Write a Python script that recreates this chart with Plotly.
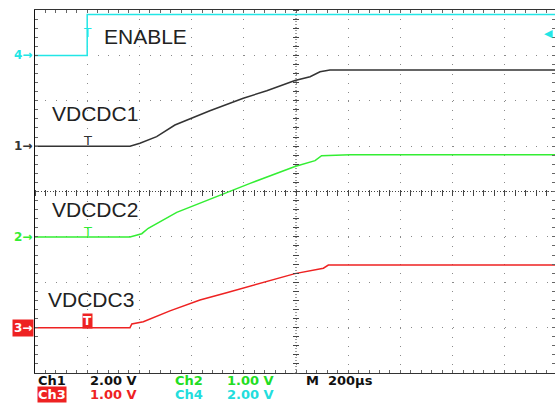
import plotly.graph_objects as go

# ---- data (time in µs, 200 µs/div; voltages in V) ----
t_ch1 = [-1000, -636, -598, -534, -464, -400, -330, -202, -112, -4, 54, 92, 130, 1000]
v_ch1 = [0, 0, 0.13, 0.42, 0.93, 1.23, 1.56, 2.11, 2.44, 2.89, 3.06, 3.28, 3.35, 3.35]
t_ch2 = [-1000, -636, -591, -566, -457, -380, -253, -176, -4, 73, 98, 207, 1000]
v_ch2 = [0, 0, 0.07, 0.19, 0.54, 0.72, 1.01, 1.18, 1.55, 1.68, 1.79, 1.81, 1.81]
t_ch3 = [-1000, -636, -629, -585, -483, -368, -266, -138, -4, 105, 124, 1000]
v_ch3 = [0, 0, 0.08, 0.13, 0.37, 0.61, 0.77, 0.98, 1.19, 1.31, 1.38, 1.38]
t_ch4 = [-1000, -800, -800, 1000]
v_ch4 = [0, 0, 1.8, 1.8]

channels = ["Ch1", "Ch2", "Ch3", "Ch4"]
labels = ["VDCDC1", "VDCDC2", "VDCDC3", "ENABLE"]
volts_per_div = [2.0, 1.0, 1.0, 2.0]
offset_div = [1, -1, -3, 3]
colors = ["#333333", "#33ee33", "#ee2222", "#22e6e6"]
scale_text = ["2.00 V", "1.00 V", "1.00 V", "2.00 V"]
timebase = "200µs"
trigger_t = -800
trigger_level_v = 0.98

W, H = 555, 405
L, R, T, B = 35, 0, 10, 32
PW, PH = W - L - R, H - T - B


def px(x):
    return (x - L) / PW


def py(y):
    return (H - B - y) / PH


def to_div(v, ch):
    return [offset_div[ch] + vv / volts_per_div[ch] for vv in v]


fig = go.Figure()
series = [(t_ch1, v_ch1), (t_ch2, v_ch2), (t_ch3, v_ch3), (t_ch4, v_ch4)]
for i in [3, 0, 1, 2]:
    t, v = series[i]
    fig.add_trace(go.Scatter(x=t, y=to_div(v, i), mode="lines",
                             line=dict(color=colors[i], width=1.5),
                             showlegend=False, hoverinfo="skip"))
# helper traces so that the crosshair tick axes are drawn
fig.add_trace(go.Scatter(x=[None], y=[None], xaxis="x2", yaxis="y", showlegend=False, hoverinfo="skip"))
fig.add_trace(go.Scatter(x=[None], y=[None], xaxis="x", yaxis="y2", showlegend=False, hoverinfo="skip"))

xr = [-1000, -1000 + PW / 52.2 * 200]
grid_c = "#8a8a8a"
fig.update_layout(
    template="none",
    width=W, height=H, margin=dict(l=L, r=R, t=T, b=B, pad=0),
    paper_bgcolor="white", plot_bgcolor="white",
    xaxis=dict(range=xr, showgrid=True, gridcolor=grid_c, gridwidth=1, automargin=False,
               griddash="1px,8.075px", dtick=200, tick0=-1000,
               ticks="inside", ticklen=3, tickcolor="#666",
               showticklabels=False, showline=True, linecolor="#333", linewidth=1,
               mirror="ticks", zeroline=False,
               minor=dict(dtick=40, ticks="inside", ticklen=3, tickcolor="#666", showgrid=False)),
    yaxis=dict(range=[-4, 4], showgrid=True, gridcolor=grid_c, gridwidth=1, automargin=False,
               griddash="1px,9.44px", dtick=1, tick0=0,
               ticks="inside", ticklen=3, tickcolor="#666",
               showticklabels=False, showline=True, linecolor="#111", linewidth=1,
               mirror="ticks", zeroline=False,
               minor=dict(dtick=0.2, ticks="inside", ticklen=3, tickcolor="#666", showgrid=False)),
    xaxis2=dict(overlaying="x", anchor="free", position=0.5 + 3 / PH, range=xr, automargin=False,
                dtick=40, tick0=-1000, ticks="outside", ticklen=6, tickcolor="#444",
                showticklabels=False, showgrid=False, showline=False, zeroline=False),
    yaxis2=dict(overlaying="y", anchor="free", position=(1000 / (xr[1] - xr[0])) + 3 / PW,
                range=[-4, 4], dtick=0.2, tick0=0, ticks="outside", ticklen=6, tickcolor="#444",
                automargin=False,
                showticklabels=False, showgrid=False, showline=False, zeroline=False),
    shapes=[
        dict(type="line", xref="paper", yref="y", x0=0, x1=1, y0=0, y1=0, layer="below",
             line=dict(color="#444", width=1, dash="1px,2px")),
        dict(type="line", xref="x", yref="paper", x0=0, x1=0, y0=0, y1=1, layer="below",
             line=dict(color="#444", width=1, dash="1px,2px")),
    ],
)

ann = []
label_font = dict(family="Liberation Sans, Arial, sans-serif", size=21, color="#222")
label_pos = [(50, 113.5), (50, 209.7), (46, 299), (102, 37)]
for i in range(4):
    x, y = label_pos[i]
    ann.append(dict(xref="paper", yref="paper", x=px(x), y=py(y), text=labels[i],
                    showarrow=False, xanchor="left", yanchor="middle", font=label_font))

# channel ground markers on the left
mk_font = dict(family="DejaVu Sans, sans-serif", size=12)
for i in range(4):
    f = dict(mk_font, color=colors[i] if i != 2 else "white")
    a = dict(xref="paper", yref="y", x=px(34), y=offset_div[i], text=f"<b>{i+1}→</b>",
             showarrow=False, xanchor="right", yanchor="middle", font=f, borderpad=1)
    if i == 2:
        a["bgcolor"] = colors[2]
    ann.append(a)

# trigger position markers
for i in range(3):
    f = dict(family="DejaVu Sans, sans-serif", size=13, color=colors[i] if i != 2 else "white")
    a = dict(xref="x", yref="y", x=trigger_t, y=offset_div[i], text="T", showarrow=False,
             xanchor="center", yanchor="bottom", font=f, yshift=-3, borderpad=0)
    if i == 2:
        a["bgcolor"] = colors[2]
        a["yshift"] = -1
        a["text"] = "<b>T</b>"
        a["font"] = dict(f, size=12)
    ann.append(a)
ann.append(dict(xref="x", yref="y", x=trigger_t, y=offset_div[3] + trigger_level_v / volts_per_div[3],
                text="T", showarrow=False, xanchor="center", yanchor="middle",
                font=dict(family="DejaVu Sans, sans-serif", size=12, color=colors[3])))
# trigger level marker on right
ann.append(dict(xref="paper", yref="y", x=0.998, y=offset_div[3] + trigger_level_v / volts_per_div[3],
                text="◀", showarrow=False, xanchor="right", yanchor="middle", borderpad=0,
                font=dict(family="DejaVu Sans, sans-serif", size=11, color=colors[3])))

# bottom readout
ro_font = dict(family="DejaVu Sans, sans-serif", size=13)
text_colors = ["#111111", "#22dd22", "#ee2222", "#22dddd"]
rows = [(0, 37, 380.5), (1, 174, 380.5), (2, 37, 394), (3, 174, 394)]
for i, x, y in rows:
    fc = "white" if i == 2 else text_colors[i]
    a = dict(xref="paper", yref="paper", x=px(x), y=py(y), text=f"<b>{channels[i]}</b>",
             showarrow=False, xanchor="left", yanchor="middle", font=dict(ro_font, color=fc),
             borderpad=0)
    if i == 2:
        a["bgcolor"] = "#ee2222"
    ann.append(a)
    ann.append(dict(xref="paper", yref="paper", x=px(x + 52), y=py(y), text=f"<b>{scale_text[i]}</b>",
                    showarrow=False, xanchor="left", yanchor="middle", borderpad=0,
                    font=dict(ro_font, color=text_colors[i])))
ann.append(dict(xref="paper", yref="paper", x=px(305), y=py(380.5), text=f"<b>M  {timebase}</b>",
                showarrow=False, xanchor="left", yanchor="middle", borderpad=0,
                font=dict(ro_font, color="#111")))

fig.update_layout(annotations=ann)
fig.write_html("out.html", config={"displayModeBar": False},
               post_script="document.body.style.margin='0px';")
